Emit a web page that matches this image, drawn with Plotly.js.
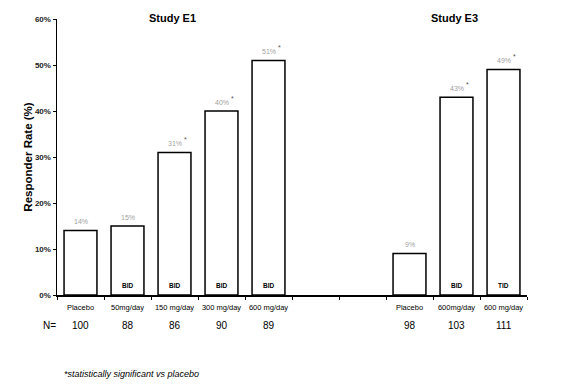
<!DOCTYPE html>
<html>
<head>
<meta charset="utf-8">
<script src="https://cdn.plot.ly/plotly-3.0.1.min.js"></script>
<style>html,body{margin:0;padding:0;background:#fff;}#chart{width:570px;height:389px;}</style>
</head>
<body>
<div id="chart"></div>
<script>
// ---- data ----
const slotKeys   = ["c0","c1","c2","c3","c4","c5","c6","c7","c8","c9"];
const doseLabels = ["Placebo","50mg/day","150 mg/day","300 mg/day","600 mg/day","","","Placebo","600mg/day","600 mg/day"];
const responderRate = [14, 15, 31, 40, 51, null, null, 9, 43, 49];
const nPatients  = [100, 88, 86, 90, 89, null, null, 98, 103, 111];
const significant = [false, false, true, true, true, false, false, false, true, true];
const dosing     = ["", "BID", "BID", "BID", "BID", "", "", "", "BID", "TID"];
const studyTitles = ["Study E1", "Study E3"];
const studyTitleSlots = [2, 8];
const yTicks = [0, 10, 20, 30, 40, 50, 60];

const FONT = "Liberation Sans, Arial, sans-serif";
const annotations = [];

responderRate.forEach((v, i) => {
  if (v === null) return;
  annotations.push({x: slotKeys[i], y: v, xref: "x", yref: "y", text: v + "%",
    xanchor: "center", yanchor: "middle",
    showarrow: false, yshift: 9, font: {family: FONT, size: 7, color: "#a0a0a0"}});
  if (significant[i]) {
    annotations.push({x: slotKeys[i], y: v, xref: "x", yref: "y", text: "*",
      xanchor: "center", yanchor: "middle",
      showarrow: false, xshift: 11, yshift: 13, font: {family: FONT, size: 7, color: "#555"}});
  }
  if (dosing[i]) {
    annotations.push({x: slotKeys[i], y: 0, xref: "x", yref: "y", text: "<b>" + dosing[i] + "</b>",
      xanchor: "center", yanchor: "middle",
      showarrow: false, yshift: 10, font: {family: FONT, size: 6.5, color: "#000"}});
  }
});
nPatients.forEach((n, i) => {
  if (n === null) return;
  annotations.push({x: slotKeys[i], y: -0.109, xref: "x", yref: "paper", text: String(n),
    xanchor: "center", yanchor: "middle",
    showarrow: false, font: {family: FONT, size: 10, color: "#000"}});
});
annotations.push({x: -0.015, y: -0.109, xref: "paper", yref: "paper", text: "N=",
  xanchor: "center", yanchor: "middle",
  showarrow: false, font: {family: FONT, size: 10, color: "#000"}});
studyTitles.forEach((t, k) => {
  annotations.push({x: slotKeys[studyTitleSlots[k]], y: 1.004, xref: "x", yref: "paper",
    xanchor: "center", yanchor: "middle",
    text: "<b>" + t + "</b>", showarrow: false, xshift: -2,
    font: {family: FONT, size: 11, color: "#000"}});
});
annotations.push({x: 0.01, y: -0.286, xref: "paper", yref: "paper", xanchor: "left", yanchor: "middle",
  text: "<i>*statistically significant vs placebo</i>", showarrow: false,
  font: {family: FONT, size: 9, color: "#000"}});

const trace = {
  type: "bar",
  x: slotKeys,
  y: responderRate,
  marker: {color: "#ffffff", line: {color: "#000", width: 1.5}},
  hoverinfo: "skip",
  cliponaxis: false
};

const layout = {
  width: 570, height: 389,
  margin: {l: 57, r: 43, t: 19, b: 94},
  paper_bgcolor: "#fff", plot_bgcolor: "#fff",
  showlegend: false,
  bargap: 0.3,
  font: {family: FONT},
  xaxis: {
    type: "category",
    categoryorder: "array", categoryarray: slotKeys,
    tickmode: "array", tickvals: slotKeys, ticktext: doseLabels,
    tickson: "boundaries",
    tickangle: 0,
    ticks: "outside", ticklen: 3, tickcolor: "#000", tickwidth: 1,
    showline: true, linecolor: "#000", linewidth: 1.5,
    showgrid: false, zeroline: false,
    ticklabelstandoff: 4,
    tickfont: {family: FONT, size: 7.5, color: "#000"},
    range: [-0.5, 9.5], fixedrange: true
  },
  yaxis: {
    range: [0, 60],
    tickmode: "array", tickvals: yTicks, ticktext: yTicks.map(v => "<b>" + v + "%</b>"),
    ticks: "outside", ticklen: 3, tickcolor: "#000", tickwidth: 1,
    showline: true, linecolor: "#000", linewidth: 1.5,
    showgrid: false, zeroline: false,
    tickfont: {family: FONT, size: 8, color: "#222"},
    title: {text: "<b>Responder Rate (%)</b>", font: {family: FONT, size: 11.5, color: "#000"}, standoff: 0},
    fixedrange: true
  },
  annotations: annotations
};

Plotly.newPlot("chart", [trace], layout, {staticPlot: true, displayModeBar: false});
</script>
</body>
</html>
